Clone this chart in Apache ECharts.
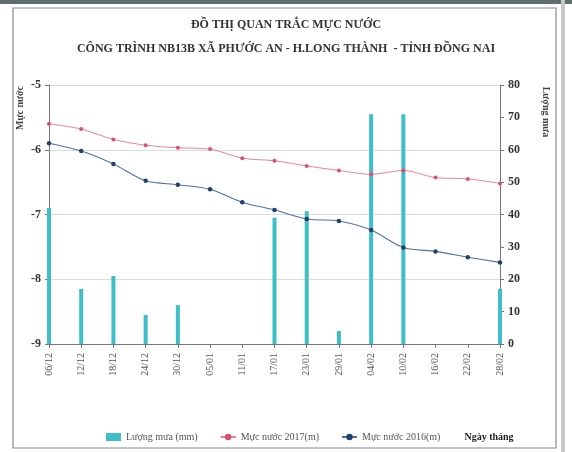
<!DOCTYPE html>
<html><head><meta charset="utf-8">
<script src="https://cdn.jsdelivr.net/npm/echarts@6/dist/echarts.min.js"></script>
<style>html,body{margin:0;padding:0;background:#fff}#c{width:572px;height:452px}</style>
</head><body><div id="c"></div>
<script>
const dates = ['06/12','12/12','18/12','24/12','30/12','05/01','11/01','17/01','23/01','29/01','04/02','10/02','16/02','22/02','28/02'];
const rain = [42,17,21,9,12,null,null,39,41,4,71,71,null,null,17];
const level2017 = [-5.60,-5.68,-5.84,-5.93,-5.97,-5.99,-6.13,-6.17,-6.25,-6.32,-6.38,-6.32,-6.43,-6.45,-6.52];
const level2016 = [-5.90,-6.02,-6.22,-6.48,-6.54,-6.61,-6.81,-6.93,-7.07,-7.10,-7.24,-7.51,-7.57,-7.66,-7.74];
const leftTicks = {min:-9, max:-5, interval:1};
const rightTicks = {min:0, max:80, interval:10};

const serif = 'Liberation Serif';
const chart = echarts.init(document.getElementById('c'));
chart.setOption({
  animation:false,
  title:{
    text:'ĐỒ THỊ QUAN TRẮC MỰC NƯỚC\nCÔNG TRÌNH NB13B XÃ PHƯỚC AN - H.LONG THÀNH  - TỈNH ĐỒNG NAI',
    left:'center', top:8,
    textStyle:{fontFamily:serif, fontSize:12, fontWeight:'bold', color:'#333', lineHeight:24}
  },
  grid:{left:49, right:72, top:85, bottom:108},
  legend:{
    left:101, top:427, itemGap:22, itemWidth:15, itemHeight:8,
    textStyle:{fontFamily:serif, fontSize:10, color:'#555'},
    data:[{name:'Lượng mưa (mm)', icon:'rect'},'Mực nước 2017(m)','Mực nước 2016(m)']
  },
  xAxis:{
    type:'category', data:dates, boundaryGap:false,
    axisLine:{lineStyle:{color:'#777'}},
    axisTick:{length:4, lineStyle:{color:'#777'}},
    axisLabel:{rotate:90, fontFamily:serif, fontSize:10, color:'#555', margin:9}
  },
  yAxis:[
    {type:'value', min:leftTicks.min, max:leftTicks.max, interval:leftTicks.interval,
     axisLine:{show:true, lineStyle:{color:'#777'}}, axisTick:{show:true, length:4},
     axisLabel:{fontFamily:serif, fontSize:12, fontWeight:'bold', color:'#333', margin:8},
     splitLine:{lineStyle:{color:'#dcdcdc'}}},
    {type:'value', min:rightTicks.min, max:rightTicks.max, interval:rightTicks.interval, position:'right',
     axisLine:{show:true, lineStyle:{color:'#777'}}, axisTick:{show:true, length:4},
     axisLabel:{fontFamily:serif, fontSize:12, fontWeight:'bold', color:'#333', margin:8},
     splitLine:{show:false}}
  ],
  series:[
    {name:'Lượng mưa (mm)', type:'bar', yAxisIndex:1, data:rain, barWidth:4, clip:false,
     itemStyle:{color:'#3dbec8'}},
    {name:'Mực nước 2017(m)', type:'line', data:level2017, smooth:0.3, symbol:'circle', symbolSize:4,
     lineStyle:{color:'#f07f95', width:1}, itemStyle:{color:'#d9506e'}},
    {name:'Mực nước 2016(m)', type:'line', data:level2016, smooth:0.3, symbol:'circle', symbolSize:4.5,
     lineStyle:{color:'#4d70a6', width:1.1}, itemStyle:{color:'#253f6c'}}
  ],
  graphic:[
    {type:'rect', shape:{x:0,y:0,width:572,height:4}, style:{fill:'#5f6f70'}, z:-1},
    {type:'rect', shape:{x:13,y:8,width:543,height:440}, style:{fill:'none', stroke:'#8a8a8a', lineWidth:1.2}},
    {type:'rect', shape:{x:561,y:0,width:4,height:452}, style:{fill:'#c8c8c8'}},
    {type:'text', x:20, y:108, rotation:Math.PI/2, style:{text:'Mực nước', font:'bold 10px "Liberation Serif"', fill:'#444', align:'center', verticalAlign:'middle'}},
    {type:'text', x:546, y:112, rotation:-Math.PI/2, style:{text:'Lượng mưa', font:'bold 10px "Liberation Serif"', fill:'#444', align:'center', verticalAlign:'middle'}},
    {type:'text', x:489, y:437, style:{text:'Ngày tháng', font:'bold 10px "Liberation Serif"', fill:'#222', align:'center', verticalAlign:'middle'}}
  ]
});
</script></body></html>
